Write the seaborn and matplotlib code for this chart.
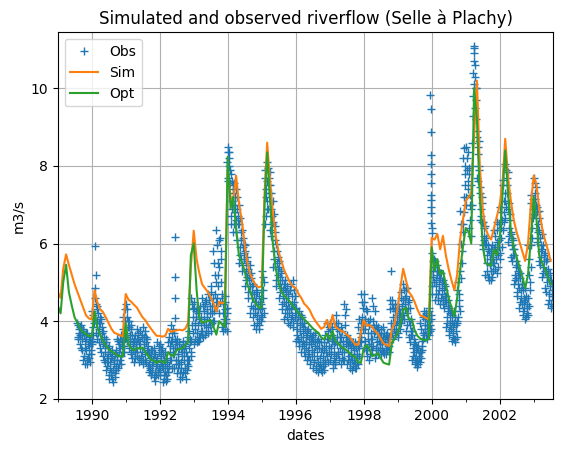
import numpy as np
import pandas as pd
import matplotlib
matplotlib.use("Agg")
import matplotlib.pyplot as plt
import matplotlib.dates as mdates
import seaborn as sns

nan = np.nan

# ---- simulated (Sim) flow, first day of each month, Jan 1989 .. Jul 2003 ----
sim_values = [
    4.75, 4.6, 5.35, 5.72, 5.45, 5.2, 4.95, 4.75, 4.55, 4.35, 4.15, 4.07,   # 1989
    4.05, 4.8, 4.5, 4.3, 4.24, 4.1, 3.95, 3.8, 3.7, 3.67, 3.64, 3.6,        # 1990
    4.7, 4.55, 4.5, 4.42, 4.35, 4.22, 4.1, 4.02, 3.9, 3.8, 3.7, 3.62,       # 1991
    3.62, 3.6, 3.62, 3.8, 3.72, 3.75, 3.76, 3.78, 3.76, 3.8, 3.95, 5.4,     # 1992
    6.33, 5.6, 5.25, 4.95, 4.85, 4.75, 4.62, 4.46, 4.25, 4.5, 4.45, 4.5,    # 1993
    7.9, 7.2, 7.1, 7.75, 7.05, 6.6, 6.0, 5.5, 5.2, 5.05, 4.92, 4.87,        # 1994
    4.9, 7.3, 8.6, 7.6, 6.8, 6.2, 5.8, 5.55, 5.3, 5.15, 5.0, 4.9,           # 1995
    4.85, 4.7, 4.6, 4.45, 4.38, 4.28, 4.12, 4.0, 3.9, 3.8, 3.85, 4.03,      # 1996
    3.82, 4.16, 3.86, 3.8, 3.75, 3.72, 3.65, 3.6, 3.5, 3.4, 3.38, 3.7,      # 1997
    4.03, 3.88, 3.9, 3.85, 3.75, 3.68, 3.55, 3.43, 3.38, 3.36, 3.8, 3.95,   # 1998
    4.35, 4.9, 5.35, 5.05, 4.75, 4.65, 4.5, 4.3, 4.15, 4.12, 4.08, 4.05,    # 1999
    6.15, 6.1, 6.25, 5.85, 6.2, 5.7, 5.35, 5.05, 4.8, 5.2, 6.1, 6.6,        # 2000
    7.1, 7.2, 7.3, 8.8, 10.2, 8.0, 6.9, 6.4, 6.2, 6.1, 6.4, 6.7,            # 2001
    7.0, 7.6, 8.7, 7.7, 7.1, 6.6, 6.3, 6.05, 5.8, 5.55, 6.0, 7.0,           # 2002
    7.75, 7.5, 6.9, 6.4, 6.1, 5.85, 5.55,                                   # 2003
]

# ---- optimised (Opt) flow, first day of each month ----
opt_values = [
    4.4, 4.2, 5.0, 5.45, 4.75, 4.4, 4.1, 3.95, 3.8, 3.72, 3.66, 3.62,       # 1989
    3.6, 4.25, 3.85, 3.65, 3.5, 3.38, 3.28, 3.22, 3.18, 3.12, 3.1, 3.08,    # 1990
    3.95, 3.4, 3.3, 3.25, 3.3, 3.3, 3.32, 3.2, 3.1, 3.0, 2.98, 2.92,        # 1991
    2.98, 2.95, 2.92, 3.2, 3.12, 3.1, 3.25, 3.28, 3.3, 3.38, 3.45, 5.7,     # 1992
    6.0, 4.8, 4.1, 3.95, 3.99, 4.0, 4.03, 3.86, 3.65, 4.0, 3.92, 3.85,      # 1993
    8.24, 6.9, 7.2, 6.4, 5.7, 5.52, 5.3, 4.95, 4.75, 4.55, 4.45, 4.35,      # 1994
    4.35, 7.0, 8.35, 7.1, 6.0, 5.35, 5.0, 4.75, 4.65, 4.58, 4.5, 4.4,       # 1995
    4.3, 4.22, 4.13, 4.05, 3.98, 3.9, 3.82, 3.75, 3.7, 3.58, 3.53, 3.68,    # 1996
    3.52, 3.75, 3.5, 3.42, 3.35, 3.3, 3.25, 3.18, 3.12, 3.08, 2.95, 2.92,   # 1997
    3.3, 3.38, 3.3, 3.1, 3.12, 3.17, 3.05, 2.93, 2.9, 2.88, 3.45, 3.55,     # 1998
    3.7, 3.95, 4.3, 4.35, 4.05, 4.05, 3.77, 3.62, 3.55, 3.52, 3.5, 3.55,    # 1999
    5.9, 5.3, 5.6, 5.2, 5.3, 4.95, 4.6, 4.35, 4.12, 4.6, 5.3, 5.9,          # 2000
    6.4, 6.3, 6.0, 10.0, 9.2, 7.2, 6.0, 5.5, 5.45, 5.42, 5.85, 5.7,         # 2001
    6.1, 7.3, 8.4, 7.3, 6.3, 5.9, 5.65, 5.4, 5.15, 4.85, 5.2, 6.1,          # 2002
    7.2, 6.6, 5.7, 5.5, 5.35, 5.15, 4.95,                                   # 2003
]

# ---- observed flow, days 1, 8, 16 and 24 of each month (4 values per month) ----
obs_1989 = [nan] * 28 + [
    3.95, 3.55, 3.8, 3.65,   3.4, 3.9, 3.25, 3.65,   3.8, 3.1, 2.9, 3.5,
    3.25, 2.9, 3.7, 3.05,    3.6, 3.35, 2.95, 3.15]
obs_1990 = [
    3.5, 4.25, 3.85, 4.05,   4.85, 5.93, 5.18, 4.3,  4.4, 3.7, 3.95, 3.45,
    3.3, 4.05, 3.55, 3.85,   3.75, 3.0, 3.45, 3.2,   2.75, 3.55, 3.05, 3.3,
    3.35, 2.5, 2.8, 3.05,    2.6, 3.25, 2.42, 2.9,   3.0, 2.55, 3.25, 2.75,
    3.55, 2.8, 3.2, 3.4,     3.0, 3.65, 2.9, 3.35,   3.5, 4.1, 3.2, 4.3]
obs_1991 = [
    4.45, 3.6, 4.1, 3.85,    3.3, 4.0, 3.55, 3.2,    3.8, 3.05, 3.45, 3.25,
    2.95, 3.65, 3.2, 3.4,    3.8, 3.1, 3.55, 2.95,   3.3, 3.75, 3.0, 3.6,
    3.85, 2.9, 3.4, 3.15,    3.0, 3.6, 3.25, 2.85,   3.35, 2.7, 3.05, 2.8,
    2.6, 3.25, 2.85, 3.0,    3.3, 2.45, 2.7, 3.0,    2.9, 3.45, 2.6, 3.2]
obs_1992 = [
    3.4, 2.6, 3.1, 2.85,     2.42, 3.15, 2.6, 2.9,   3.2, 2.45, 2.8, 2.5,
    2.7, 3.6, 3.0, 3.35,     3.9, 2.8, 3.5, 3.15,    3.7, 2.8, 3.3, 3.0,
    2.65, 3.55, 3.0, 3.3,    3.45, 2.5, 2.8, 3.1,    2.55, 3.5, 3.2, 2.8,
    3.35, 2.5, 2.9, 3.1,     2.85, 3.75, 3.3, 3.55,  4.6, 3.2, 3.9, 4.3]
obs_1993 = [
    3.4, 4.5, 3.8, 4.1,      4.35, 3.45, 3.9, 3.6,   3.5, 4.4, 3.75, 4.1,
    4.6, 3.6, 4.25, 3.9,     3.65, 4.55, 3.9, 4.3,   4.7, 3.7, 4.0, 4.4,
    3.75, 4.9, 4.2, 4.6,     5.8, 4.0, 5.2, 4.5,     6.35, 4.4, 5.5, 4.9,
    4.2, 6.15, 5.0, 5.6,     4.6, 3.75, 4.2, 3.95,   3.8, 4.65, 4.05, 4.35]
obs_1994 = [
    8.5, 7.6, 8.2, 7.9,      7.8, 6.5, 7.1, 7.5,     6.3, 7.55, 6.8, 7.2,
    7.4, 6.1, 6.9, 6.5,      5.5, 6.65, 5.9, 6.3,    6.35, 5.3, 5.9, 5.6,
    4.9, 5.95, 5.3, 5.65,    5.55, 4.6, 5.2, 4.9,    4.2, 5.25, 4.6, 4.9,
    4.95, 3.9, 4.5, 4.2,     3.8, 4.75, 4.15, 4.45,  4.65, 3.8, 4.3, 4.0]
obs_1995 = [
    4.1, 5.3, 4.6, 5.0,      6.5, 7.9, 7.2, 7.6,     8.1, 6.9, 7.7, 7.3,
    7.5, 6.2, 6.9, 6.5,      5.4, 6.75, 5.8, 6.3,    6.0, 4.9, 5.5, 5.2,
    4.6, 5.55, 4.95, 5.3,    5.25, 4.3, 4.8, 4.5,    4.05, 5.05, 4.4, 4.75,
    4.9, 3.95, 4.5, 4.2,     3.9, 4.95, 4.3, 4.65,   5.05, 3.85, 4.5, 4.1]
obs_1996 = [
    3.5, 4.35, 3.8, 4.1,     4.25, 3.35, 3.9, 3.6,   3.2, 4.1, 3.5, 3.85,
    3.95, 3.1, 3.6, 3.3,     3.0, 3.8, 3.25, 3.55,   3.7, 2.9, 3.4, 3.1,
    2.8, 3.65, 3.0, 3.35,    3.7, 2.75, 3.3, 2.95,   2.7, 3.45, 2.9, 3.2,
    3.45, 2.7, 3.1, 2.85,    2.75, 3.65, 3.0, 3.35,  3.95, 2.95, 3.55, 3.2]
obs_1997 = [
    3.0, 3.95, 3.3, 3.65,    3.55, 2.8, 3.2, 2.95,   2.9, 4.15, 3.4, 3.8,
    3.95, 3.0, 3.6, 3.3,     2.9, 3.75, 3.2, 3.5,    4.45, 3.0, 3.9, 3.4,
    2.9, 3.65, 3.2, 3.45,    3.55, 2.8, 3.3, 3.0,    2.75, 3.45, 3.0, 3.25,
    3.45, 2.8, 3.15, 2.95,   2.9, 4.05, 3.3, 3.7,    4.7, 3.45, 4.1, 3.8]
obs_1998 = [
    3.3, 4.7, 3.8, 4.3,      4.25, 3.1, 3.7, 3.4,    3.0, 4.05, 3.35, 3.7,
    4.6, 3.35, 4.0, 3.7,     3.05, 3.9, 3.3, 3.6,    3.85, 3.15, 3.5, 3.3,
    3.15, 3.8, 3.4, 3.6,     3.85, 3.15, 3.55, 3.3,  3.15, 3.7, 3.35, 3.55,
    3.35, 4.55, 3.8, 5.28,   4.55, 3.55, 4.1, 3.8,   3.65, 4.35, 3.9, 4.15]
obs_1999 = [
    4.45, 3.6, 4.1, 3.8,     3.95, 4.75, 4.3, 4.55,  4.95, 4.05, 4.6, 4.3,
    3.75, 4.85, 4.2, 4.5,    4.55, 3.45, 3.9, 3.65,  3.0, 3.75, 3.3, 3.55,
    3.45, 2.9, 3.2, 3.0,     2.83, 3.35, 3.05, 3.2,  3.95, 3.05, 3.5, 3.25,
    3.55, 4.25, 3.8, 4.05,   4.15, 3.55, 3.9, 3.7,   3.65, 4.35, 3.9, 4.15]
obs_2000 = [
    5.75, 4.7, 5.3, 5.0,     4.55, 5.55, 4.9, 5.2,   5.45, 4.55, 5.1, 4.8,
    4.45, 5.25, 4.7, 5.0,    5.05, 4.35, 4.8, 4.55,  3.85, 4.65, 4.1, 4.4,
    4.35, 3.65, 4.0, 3.8,    3.5, 4.15, 3.7, 3.95,   4.25, 3.47, 3.9, 3.6,
    3.95, 5.0, 4.4, 4.7,     6.85, 5.1, 6.0, 5.5,    6.5, 8.45, 7.2, 7.8]
obs_2001 = [
    8.5, 7.0, 7.9, 7.4,      6.4, 7.95, 7.0, 7.5,    6.2, 8.0, 9.3, 10.4,
    11.05, 10.3, 9.7, 9.2,   8.75, 7.6, 8.3, 7.9,    6.6, 7.45, 6.9, 7.2,
    6.55, 5.85, 6.2, 6.0,    5.2, 6.15, 5.5, 5.85,   5.95, 5.05, 5.6, 5.3,
    5.05, 5.95, 5.3, 5.65,   6.35, 5.35, 5.9, 5.6,   5.25, 6.55, 5.7, 6.1]
obs_2002 = [
    6.95, 5.6, 6.4, 5.9,     6.35, 7.65, 6.8, 7.3,   8.05, 6.95, 7.7, 7.3,
    6.05, 7.05, 6.4, 6.75,   6.25, 5.55, 5.95, 5.7,  4.95, 5.85, 5.2, 5.55,
    5.45, 4.65, 5.1, 4.85,   4.35, 5.25, 4.6, 4.95,  4.95, 4.15, 4.6, 4.35,
    4.05, 4.65, 4.2, 4.45,   5.95, 4.4, 5.2, 4.8,    5.95, 7.25, 6.4, 6.9]
obs_2003 = [
    7.7, 6.75, 7.3, 7.0,     6.05, 6.95, 6.3, 6.65,  6.35, 5.45, 5.95, 5.65,
    5.15, 5.95, 5.4, 5.7,    5.75, 4.75, 5.3, 5.0,   4.45, 5.35, 4.7, 5.05,
    5.05, 4.35, 4.8, 4.55]

# ---- observed flow, days 4, 12, 20 and 28 of each month (4 values per month) ----
obsb_1989 = [nan] * 28 + [
    3.6, 3.9, 3.7, 3.85,     3.8, 3.3, 3.55, 3.75,   3.0, 3.65, 3.3, 3.7,
    3.55, 3.0, 3.4, 3.15,    3.05, 3.5, 3.25, 3.45]
obsb_1990 = [
    3.4, 4.15, 3.65, 3.95,   4.6, 3.7, 4.45, 4.0,    3.55, 4.2, 3.8, 4.1,
    3.95, 3.2, 3.7, 3.4,     3.1, 3.6, 2.95, 3.35,   3.45, 2.85, 3.15, 2.95,
    2.6, 3.2, 2.95, 2.7,     3.1, 2.5, 2.75, 3.0,    2.65, 3.15, 2.85, 3.1,
    3.0, 3.5, 2.9, 3.3,      3.55, 3.1, 3.45, 3.2,   3.8, 3.35, 4.0, 3.6]
obsb_1991 = [
    3.7, 4.3, 3.5, 4.0,      3.85, 3.4, 3.65, 3.9,   3.15, 3.65, 3.35, 3.55,
    3.5, 3.05, 3.3, 3.55,    3.2, 3.7, 3.4, 3.05,    3.5, 3.1, 3.65, 3.2,
    3.0, 3.6, 3.3, 3.75,     3.45, 2.95, 3.55, 3.15, 2.9, 3.2, 2.75, 3.25,
    3.1, 2.7, 2.95, 3.15,    2.55, 3.15, 2.85, 2.6,  3.05, 2.7, 3.35, 2.8]
obsb_1992 = [
    2.75, 3.25, 2.95, 3.3,   2.8, 2.5, 3.0, 2.7,     2.6, 3.05, 2.95, 2.7,
    3.45, 2.85, 3.2, 3.5,    3.0, 3.7, 3.3, 3.8,     3.15, 3.55, 2.9, 3.45,
    3.4, 2.8, 3.15, 2.9,     2.65, 3.3, 2.95, 3.2,   3.35, 2.7, 3.0, 3.4,
    2.65, 3.2, 2.75, 3.0,    3.6, 3.0, 3.45, 3.1,    3.5, 4.45, 3.7, 4.1]
obsb_1993 = [
    4.35, 3.55, 3.95, 4.25,  3.7, 4.2, 3.5, 4.05,    4.25, 3.6, 3.95, 3.65,
    3.75, 4.4, 4.05, 4.5,    4.45, 3.75, 4.1, 4.2,   3.85, 4.55, 4.2, 3.9,
    4.75, 3.95, 4.4, 4.0,    4.25, 5.5, 4.7, 5.0,    5.95, 4.6, 5.2, 6.1,
    5.4, 4.5, 5.8, 4.7,      3.85, 4.45, 4.05, 4.3,  4.5, 3.95, 4.2, 3.75]
obsb_1994 = [
    7.7, 8.35, 8.0, 7.55,    6.7, 7.6, 6.9, 7.3,     7.4, 6.5, 7.0, 6.6,
    6.3, 7.2, 6.7, 7.0,      6.5, 5.7, 6.1, 5.6,     5.45, 6.15, 5.75, 6.0,
    5.8, 5.05, 5.5, 5.15,    4.75, 5.35, 5.05, 5.45, 5.1, 4.4, 4.75, 4.35,
    4.1, 4.7, 4.35, 4.8,     4.6, 3.95, 4.3, 4.05,   3.9, 4.5, 4.15, 4.45]
obsb_1995 = [
    4.35, 5.15, 4.8, 4.2,    7.7, 6.7, 7.4, 6.9,     7.1, 7.95, 7.5, 7.85,
    6.35, 7.3, 6.7, 7.1,     6.55, 5.6, 6.1, 6.45,   5.05, 5.8, 5.35, 5.65,
    5.4, 4.75, 5.15, 4.85,   4.45, 5.05, 4.65, 4.95, 4.85, 4.2, 4.6, 4.3,
    4.1, 4.7, 4.35, 4.8,     4.8, 4.05, 4.45, 4.15,  4.0, 4.8, 4.3, 4.65]
obsb_1996 = [
    4.2, 3.65, 3.95, 3.55,   3.45, 4.05, 3.75, 4.15, 3.95, 3.35, 3.7, 3.4,
    3.2, 3.8, 3.45, 3.75,    3.65, 3.1, 3.4, 3.15,   3.0, 3.55, 3.25, 3.6,
    3.5, 2.95, 3.2, 3.45,    2.85, 3.5, 3.1, 3.55,   3.3, 2.8, 3.05, 2.75,
    2.8, 3.3, 2.95, 3.25,    3.45, 2.9, 3.2, 3.55,   3.1, 3.75, 3.35, 3.85]
obsb_1997 = [
    3.8, 3.15, 3.5, 3.85,    2.9, 3.4, 3.05, 3.45,   3.95, 3.1, 3.6, 3.2,
    3.15, 3.75, 3.45, 3.85,  3.6, 3.05, 3.35, 3.0,   3.2, 4.15, 3.6, 4.3,
    3.5, 3.0, 3.35, 3.1,     2.95, 3.4, 3.1, 3.45,   3.35, 2.85, 3.15, 2.8,
    2.9, 3.3, 3.05, 3.35,    3.85, 3.1, 3.5, 3.95,   3.6, 4.5, 3.95, 4.35]
obsb_1998 = [
    4.5, 3.5, 4.05, 3.25,    3.25, 4.0, 3.55, 3.9,   3.9, 3.15, 3.55, 3.25,
    3.55, 4.4, 3.85, 4.25,   3.75, 3.15, 3.45, 3.8,  3.25, 3.7, 3.4, 3.6,
    3.7, 3.25, 3.5, 3.2,     3.2, 3.7, 3.45, 3.65,   3.6, 3.25, 3.45, 3.2,
    3.6, 4.3, 3.95, 4.45,    3.7, 4.35, 3.95, 4.45,  4.25, 3.75, 4.0, 4.3]
obsb_1999 = [
    3.7, 4.3, 3.95, 4.2,     4.6, 4.05, 4.4, 4.15,   4.15, 4.8, 4.45, 4.85,
    4.65, 3.9, 4.35, 4.0,    3.6, 4.35, 4.05, 3.75,  3.65, 3.1, 3.4, 3.2,
    3.05, 3.35, 2.95, 3.3,   3.25, 2.9, 3.1, 2.95,   3.2, 3.8, 3.35, 3.7,
    4.1, 3.65, 3.9, 4.2,     3.65, 4.05, 3.8, 4.0,   4.25, 3.75, 4.05, 3.8]
obsb_2000 = [
    4.9, 5.55, 5.15, 5.6,    5.4, 4.7, 5.05, 5.3,    4.7, 5.3, 4.95, 5.25,
    5.1, 4.6, 4.85, 4.55,    4.45, 4.95, 4.65, 4.9,  4.5, 3.95, 4.25, 4.55,
    3.75, 4.2, 3.9, 4.25,    4.0, 3.6, 3.85, 3.55,   3.55, 4.1, 3.75, 4.0,
    4.8, 4.1, 4.55, 4.25,    5.3, 6.5, 5.8, 6.3,     8.2, 6.8, 7.5, 8.0]
obsb_2001 = [
    7.2, 8.2, 7.6, 8.35,     7.8, 6.6, 7.25, 6.9,    7.0, 8.6, 9.8, 10.1,
    10.7, 9.5, 10.0, 8.9,    7.7, 8.5, 8.0, 8.65,    7.3, 6.7, 7.05, 6.55,
    5.95, 6.4, 6.1, 6.45,    6.0, 5.3, 5.7, 5.15,    5.15, 5.8, 5.45, 5.85,
    5.75, 5.15, 5.5, 5.85,   5.5, 6.2, 5.75, 6.05,   6.35, 5.4, 5.9, 6.5]
obsb_2002 = [
    5.75, 6.8, 6.15, 6.6,    7.5, 6.55, 7.1, 6.65,   7.1, 7.9, 7.5, 7.85,
    6.9, 6.2, 6.6, 6.3,      5.65, 6.15, 5.85, 6.1,  5.7, 5.05, 5.4, 5.1,
    4.75, 5.3, 4.95, 5.25,   5.1, 4.5, 4.8, 4.45,    4.25, 4.8, 4.5, 4.85,
    4.55, 4.1, 4.35, 4.15,   4.6, 5.6, 5.0, 5.4,     7.05, 6.15, 6.65, 7.15]
obsb_2003 = [
    6.9, 7.55, 7.15, 7.45,   6.8, 6.15, 6.5, 6.85,   5.55, 6.15, 5.8, 6.25,
    5.85, 5.25, 5.55, 5.3,   4.85, 5.55, 5.15, 5.6,  5.2, 4.55, 4.9, 5.25,
    4.45, 4.95, 4.65, 4.4]

# flood days observed on specific dates
obs_flood_dates = ["1992-06-10", "1992-06-11", "1992-06-12", "1992-06-13",
                   "1993-12-28", "1994-01-04",
                   "1999-12-19", "1999-12-20", "1999-12-21", "1999-12-22",
                   "1999-12-23", "1999-12-24", "1999-12-25", "1999-12-26",
                   "1999-12-27", "1999-12-28", "1999-12-29", "1999-12-30",
                   "1999-12-31", "2000-01-01",
                   "2001-03-26", "2001-04-04", "2001-04-12", "2001-04-20"]
obs_flood_values = [6.18, 5.15, 4.6, 4.07,
                    8.1, 8.35,
                    9.83, 9.46, 8.88, 8.28, 8.04, 7.8, 7.55, 7.25,
                    7.12, 6.95, 6.78, 6.52, 6.39, 6.26,
                    10.9, 11.1, 10.6, 10.0]

# ---------------------------------------------------------------------------
month_dates = pd.date_range("1989-01-01", periods=len(sim_values), freq="MS")
obs_a = (obs_1989 + obs_1990 + obs_1991 + obs_1992 + obs_1993 + obs_1994 +
         obs_1995 + obs_1996 + obs_1997 + obs_1998 + obs_1999 + obs_2000 +
         obs_2001 + obs_2002 + obs_2003)
obs_b = (obsb_1989 + obsb_1990 + obsb_1991 + obsb_1992 + obsb_1993 + obsb_1994 +
         obsb_1995 + obsb_1996 + obsb_1997 + obsb_1998 + obsb_1999 + obsb_2000 +
         obsb_2001 + obsb_2002 + obsb_2003)
dates_a = [d + pd.Timedelta(days=k) for d in month_dates for k in (0, 7, 15, 23)]
dates_b = [d + pd.Timedelta(days=k) for d in month_dates for k in (3, 11, 19, 27)]

obs = pd.DataFrame({
    "date": list(dates_a) + list(dates_b) + list(pd.to_datetime(obs_flood_dates)),
    "flow": list(obs_a) + list(obs_b) + obs_flood_values}).dropna()
obs = obs.sort_values("date")
sim = pd.DataFrame({"date": month_dates, "flow": sim_values})
opt = pd.DataFrame({"date": month_dates, "flow": opt_values})

fig = plt.figure(figsize=(5.62, 4.55), dpi=100)
ax = fig.add_axes([0.1027, 0.1220, 0.8819, 0.8066])

sns.lineplot(data=obs, x="date", y="flow", ax=ax, estimator=None, sort=False,
             linestyle="", marker="+", markersize=6, markeredgewidth=1.0,
             markeredgecolor="#1f77b4", color="#1f77b4", label="Obs")
sns.lineplot(data=sim, x="date", y="flow", ax=ax, estimator=None,
             color="#ff7f0e", linewidth=1.5, label="Sim")
sns.lineplot(data=opt, x="date", y="flow", ax=ax, estimator=None,
             color="#2ca02c", linewidth=1.5, label="Opt")

ax.set_xlim(pd.Timestamp("1989-01-01"), pd.Timestamp("2003-07-31"))
ax.set_ylim(1.98, 11.44)
ax.xaxis.set_major_locator(mdates.YearLocator(2))
ax.xaxis.set_minor_locator(mdates.YearLocator(1))
ax.xaxis.set_major_formatter(mdates.DateFormatter("%Y"))
ax.grid(True, which="major", color="#b0b0b0", linewidth=0.8)
ax.set_axisbelow(True)

ax.set_title("Simulated and observed riverflow (Selle à Plachy)", fontsize=12)
ax.set_xlabel("dates", fontsize=10)
ax.set_ylabel("m3/s", fontsize=10)
ax.legend(loc="upper left")

fig.savefig("out.png", dpi=100)
